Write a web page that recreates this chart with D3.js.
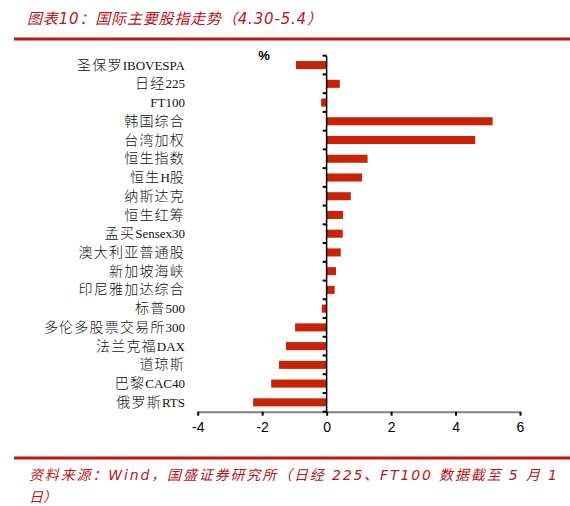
<!DOCTYPE html>
<html>
<head>
<meta charset="utf-8">
<script src="https://cdn.jsdelivr.net/npm/d3@7"></script>
<style>
  body { margin: 0; background: #fff; }
  .lbl { font-family: "Liberation Serif", "Noto Sans CJK SC", serif; font-size: 13px; fill: #111; }
  .lbl .cjk { font-family: "Noto Sans CJK SC", serif; font-size: 14px; font-weight: 300; letter-spacing: 1.2px; }
  .red { font-family: "DejaVu Sans", "Noto Sans CJK SC", sans-serif; font-style: oblique; fill: #b8141c; }
</style>
</head>
<body>
<div id="graph"></div>
<script>
// data
let categories = ["圣保罗IBOVESPA", "日经225", "FT100", "韩国综合", "台湾加权", "恒生指数", "恒生H股",
  "纳斯达克", "恒生红筹", "孟买Sensex30", "澳大利亚普通股", "新加坡海峡", "印尼雅加达综合",
  "标普500", "多伦多股票交易所300", "法兰克福DAX", "道琼斯", "巴黎CAC40", "俄罗斯RTS"];
let values = [-0.95, 0.41, -0.17, 5.15, 4.61, 1.27, 1.10, 0.75, 0.51, 0.50, 0.44, 0.29, 0.25,
  -0.15, -0.98, -1.26, -1.48, -1.72, -2.28];
let xTicks = [-4, -2, 0, 2, 4, 6];

let svgWidth = 570;
let svgHeight = 506;

let svg = d3.select("#graph")
  .append("svg")
  .attr("width", svgWidth)
  .attr("height", svgHeight);

// title + rule
svg.append("text")
  .attr("class", "red")
  .attr("x", 27)
  .attr("y", 24)
  .attr("font-size", "15px")
  .attr("textLength", 295)
  .attr("lengthAdjust", "spacing")
  .text("图表10：国际主要股指走势（4.30-5.4）");

svg.append("line")
  .attr("x1", 14).attr("x2", 570)
  .attr("y1", 39).attr("y2", 39)
  .attr("stroke", "#c0141c")
  .attr("stroke-width", 3);

// scales
let xScale = d3.scaleLinear().domain([-4, 6]).range([197.7, 520]);
let yScale = d3.scaleBand()
  .domain(categories)
  .range([55.7, 411.7])
  .paddingInner(0.57)
  .paddingOuter(0.285);

// bars
svg.selectAll("rect.bar")
  .data(categories)
  .enter()
  .append("rect")
  .attr("class", "bar")
  .attr("x", (d, i) => xScale(Math.min(0, values[i])))
  .attr("y", d => yScale(d))
  .attr("width", (d, i) => Math.abs(xScale(values[i]) - xScale(0)))
  .attr("height", yScale.bandwidth())
  .attr("fill", "#c82306");

// x axis
let xAxis = d3.axisBottom(xScale)
  .tickValues(xTicks)
  .tickSizeInner(4)
  .tickSizeOuter(0)
  .tickPadding(6)
  .tickFormat(d3.format("d"));

let xg = svg.append("g")
  .attr("transform", `translate(0, 411.7)`)
  .call(xAxis);
xg.select(".domain").attr("stroke", "#808080").attr("stroke-width", 2);
xg.selectAll(".tick line").attr("stroke", "#000").attr("stroke-width", 2);
xg.selectAll(".tick text")
  .attr("font-family", "Liberation Sans, Arial, sans-serif")
  .attr("font-size", "14px")
  .attr("fill", "#000")
  .text(d => d < 0 ? "-" + Math.abs(d) : d);

// y axis at zero, ticks on category boundaries
let gap = (yScale.step() - yScale.bandwidth()) / 2;
let bounds = categories.map(c => yScale(c) - gap);
bounds.push(yScale(categories[categories.length - 1]) + yScale.bandwidth() + gap);

svg.append("line")
  .attr("x1", xScale(0)).attr("x2", xScale(0))
  .attr("y1", bounds[0]).attr("y2", bounds[bounds.length - 1])
  .attr("stroke", "#000")
  .attr("stroke-width", 1.5);

svg.selectAll("line.ytick")
  .data(bounds)
  .enter()
  .append("line")
  .attr("class", "ytick")
  .attr("x1", xScale(0) - 4).attr("x2", xScale(0))
  .attr("y1", d => d).attr("y2", d => d)
  .attr("stroke", "#000")
  .attr("stroke-width", 2);

// category labels, CJK and latin runs styled separately
let labels = svg.selectAll("text.lbl")
  .data(categories)
  .enter()
  .append("text")
  .attr("class", "lbl")
  .attr("x", 185)
  .attr("y", d => yScale(d) + yScale.bandwidth() / 2)
  .attr("dy", "0.35em")
  .attr("text-anchor", "end");

labels.selectAll("tspan")
  .data(d => d.match(/[\u4e00-\u9fff]+|[^\u4e00-\u9fff]+/g))
  .enter()
  .append("tspan")
  .attr("class", d => /[\u4e00-\u9fff]/.test(d) ? "cjk" : null)
  .text(d => d);

// unit
svg.append("text")
  .attr("x", 264)
  .attr("y", 55)
  .attr("dy", "0.35em")
  .attr("text-anchor", "middle")
  .attr("font-family", "Liberation Sans, Arial, sans-serif")
  .attr("font-size", "13px")
  .attr("font-weight", "bold")
  .text("%");

// source
svg.append("line")
  .attr("x1", 14).attr("x2", 570)
  .attr("y1", 458).attr("y2", 458)
  .attr("stroke", "#c0141c")
  .attr("stroke-width", 3);

let src = svg.append("text")
  .attr("class", "red")
  .attr("font-size", "14px");
src.append("tspan").attr("x", 29).attr("y", 480)
  .attr("textLength", 528)
  .attr("lengthAdjust", "spacing")
  .text("资料来源：Wind，国盛证券研究所（日经 225、FT100 数据截至 5 月 1");
src.append("tspan").attr("x", 29).attr("y", 502)
  .text("日）");
</script>
</body>
</html>
